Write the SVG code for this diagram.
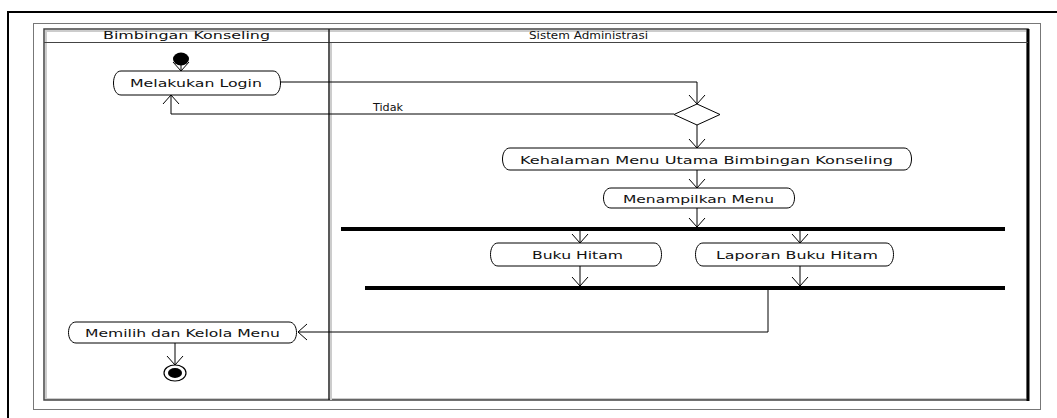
<svg xmlns="http://www.w3.org/2000/svg" width="1057" height="418" viewBox="0 0 1057 418">
  <defs>
    <marker id="arrow" markerUnits="userSpaceOnUse" markerWidth="20" markerHeight="20" refX="10" refY="10" orient="auto" viewBox="0 0 20 20">
      <path d="M1,2 L10,10 L1,18" fill="none" stroke="#000" stroke-width="1"/>
    </marker>
  </defs>
  <style>
    .lbl { font-family: "DejaVu Sans", Verdana, sans-serif; font-size: 11px; fill: #111; }
    .act { fill: #fff; stroke: #000; stroke-width: 1; }
    .edge { fill: none; stroke: #000; stroke-width: 1; marker-end: url(#arrow); }
    .line { fill: none; stroke: #000; stroke-width: 1; }
    .bar { fill: #000; }
  </style>

  <rect width="1057" height="418" fill="#fff"/>

  <!-- outer frames -->
  <path d="M8,418 V12 H1057" fill="none" stroke="#000" stroke-width="2"/>
  <rect x="33.5" y="23.5" width="1007" height="386" fill="none" stroke="#777" stroke-width="1"/>

  <!-- swimlanes -->
  <g id="lanes">
    <rect x="46" y="31" width="981" height="368" fill="none" stroke="#ccc" stroke-width="2"/>
    <rect x="44" y="29" width="984" height="371" fill="none" stroke="#444" stroke-width="1.5"/>
    <line x1="1028" y1="29" x2="1028" y2="401" stroke="#000" stroke-width="3"/>
    <line x1="44" y1="42.5" x2="1028" y2="42.5" stroke="#444" stroke-width="1"/>
    <line x1="331" y1="43" x2="331" y2="400" stroke="#ccc" stroke-width="2"/>
    <line x1="329" y1="29" x2="329" y2="400" stroke="#222" stroke-width="1.5"/>
    <text class="lbl" x="103" y="39" textLength="167" lengthAdjust="spacingAndGlyphs">Bimbingan Konseling</text>
    <text class="lbl" x="529" y="39" textLength="119" lengthAdjust="spacingAndGlyphs">Sistem Administrasi</text>
  </g>

  <!-- connectors -->
  <g id="connectors">
    <path class="edge" d="M181,62 V71"/>
    <path class="edge" d="M281,82 H697 V104"/>
    <path class="line" d="M674,114 H171 V104"/>
    <path class="edge" d="M171,104 V95"/>
    <path class="edge" d="M697,125 V148"/>
    <path class="edge" d="M697,170 V188"/>
    <path class="edge" d="M697,208 V227"/>
    <path class="edge" d="M580,231 V243"/>
    <path class="edge" d="M800,231 V243"/>
    <path class="edge" d="M580,266 V286"/>
    <path class="edge" d="M800,266 V286"/>
    <path class="edge" d="M768,290 V332 H298"/>
    <path class="edge" d="M175,343 V365"/>
    <text class="lbl" x="373" y="111" textLength="30" lengthAdjust="spacingAndGlyphs">Tidak</text>
  </g>

  <!-- start -->
  <g id="start">
    <ellipse cx="181" cy="59" rx="8" ry="6.5" fill="#000"/>
  </g>

  <g id="login">
    <path class="act" d="M121,71 H273 C283,71 283,95 273,95 H121 C111,95 111,71 121,71 Z"/>
    <text class="lbl" x="130" y="87" textLength="132" lengthAdjust="spacingAndGlyphs">Melakukan Login</text>
  </g>

  <g id="decision">
    <path class="act" d="M697,104 L720,114.5 L697,125 L674,114.5 Z"/>
  </g>

  <g id="menu-utama">
    <path class="act" d="M510,148 H904 C914,148 914,170 904,170 H510 C500,170 500,148 510,148 Z"/>
    <text class="lbl" x="520" y="164" textLength="373" lengthAdjust="spacingAndGlyphs">Kehalaman Menu Utama Bimbingan Konseling</text>
  </g>

  <g id="menampilkan">
    <path class="act" d="M611,188 H787 C797,188 797,208 787,208 H611 C601,208 601,188 611,188 Z"/>
    <text class="lbl" x="623" y="203" textLength="151" lengthAdjust="spacingAndGlyphs">Menampilkan Menu</text>
  </g>

  <g id="fork">
    <rect class="bar" x="341" y="227" width="664" height="4"/>
  </g>

  <g id="buku-hitam">
    <path class="act" d="M498,243 H654 C664,243 664,266 654,266 H498 C488,266 488,243 498,243 Z"/>
    <text class="lbl" x="532" y="259" textLength="91" lengthAdjust="spacingAndGlyphs">Buku Hitam</text>
  </g>

  <g id="laporan">
    <path class="act" d="M703,243 H886 C896,243 896,266 886,266 H703 C693,266 693,243 703,243 Z"/>
    <text class="lbl" x="716" y="259" textLength="162" lengthAdjust="spacingAndGlyphs">Laporan Buku Hitam</text>
  </g>

  <g id="join">
    <rect class="bar" x="365" y="286" width="640" height="4"/>
  </g>

  <g id="memilih">
    <path class="act" d="M76,322 H289 C299,322 299,343 289,343 H76 C66,343 66,322 76,322 Z"/>
    <text class="lbl" x="85" y="337" textLength="195" lengthAdjust="spacingAndGlyphs">Memilih dan Kelola Menu</text>
  </g>

  <g id="end">
    <ellipse cx="175" cy="373" rx="11" ry="8" fill="#fff" stroke="#000" stroke-width="1.2"/>
    <ellipse cx="175" cy="373" rx="7" ry="5" fill="#000"/>
  </g>
</svg>
